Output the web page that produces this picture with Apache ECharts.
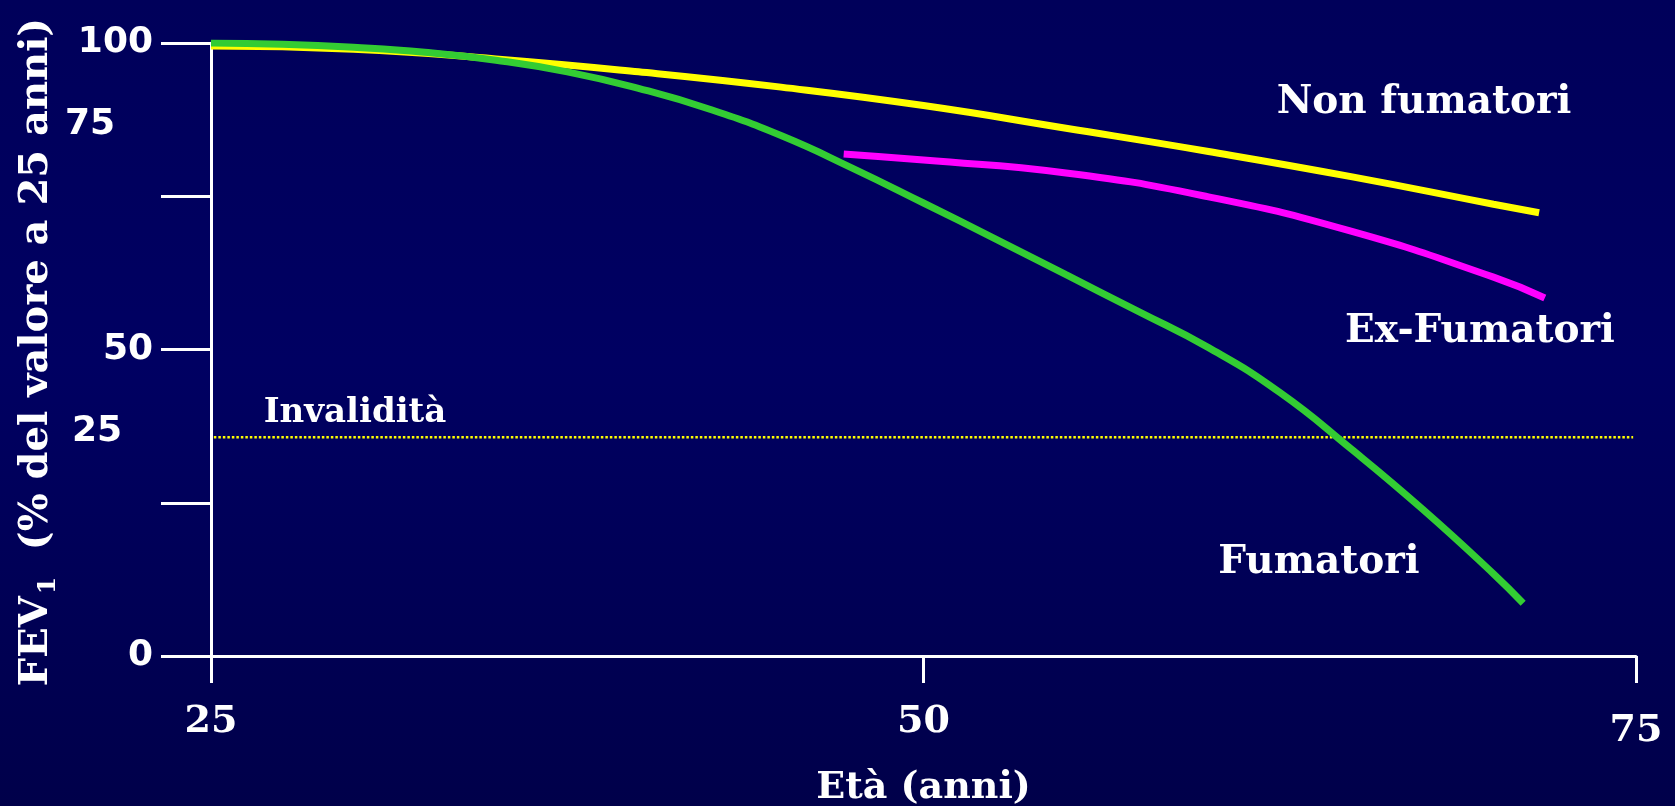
<!DOCTYPE html>
<html>
<head>
<meta charset="utf-8">
<title>FEV1 e fumo</title>
<script src="https://cdn.jsdelivr.net/npm/echarts@6/dist/echarts.min.js"></script>
<style>
  html, body { margin: 0; padding: 0; background: #00005e; }
  #chart { width: 1675px; height: 806px; }
</style>
</head>
<body>
<div id="chart"></div>
<script>
// FEV1 (% of the value at age 25) by age, for three smoking groups
const nonSmokerAges   = [25, 30, 35, 40, 45, 50, 55, 60, 65, 70, 71.6];
const nonSmokerValues = [99.5, 99.0, 97.4, 95.3, 92.8, 89.8, 86.1, 82.3, 78.2, 73.7, 72.3];

const exSmokerAges   = [47.2, 50, 55, 60, 65, 70, 71.8];
const exSmokerValues = [81.9, 80.9, 78.8, 74.9, 69.3, 61.8, 58.4];

const smokerAges   = [25, 27.5, 30, 32.5, 35, 37.5, 40, 42.5, 45, 47.5, 50, 52.5, 55, 57.5, 60, 62.5, 65, 67.5, 70, 71.04];
const smokerValues = [100, 99.8, 99.3, 98.5, 97.2, 95.3, 92.6, 89.2, 84.9, 79.6, 73.9, 68.1, 62.2, 56.3, 50.3, 43.0, 33.8, 24.0, 13.4, 8.6];

// disability threshold (dotted line)
const disabilityLevel = 35.7;
const disabilityRange = [25.1, 74.9];

const xTicks = [25, 50, 75];
const yTickLabels = [0, 50, 100];

const zip = (xs, ys) => xs.map((x, i) => [x, ys[i]]);

const serifBold = "'DejaVu Serif', serif";
const sansBold = "'DejaVu Sans', sans-serif";
const white = '#ffffff';

const chart = echarts.init(document.getElementById('chart'), null, { renderer: 'canvas' });

chart.setOption({
  animation: false,
  backgroundColor: {
    type: 'linear', x: 0, y: 0, x2: 0, y2: 1,
    colorStops: [
      { offset: 0, color: '#00005a' },
      { offset: 0.45, color: '#000062' },
      { offset: 1, color: '#00004a' }
    ]
  },
  grid: { left: 211, right: 39, top: 43, bottom: 150, containLabel: false, outerBoundsMode: 'none' },
  xAxis: {
    type: 'value',
    min: 25, max: 75, interval: 25,
    name: 'Età (anni)',
    nameLocation: 'middle',
    nameGap: 113,
    nameTextStyle: { color: white, fontFamily: serifBold, fontWeight: 'bold', fontSize: 38 },
    axisLine: { show: true, onZero: false, lineStyle: { color: white, width: 3 } },
    axisTick: { show: true, length: 27, lineStyle: { color: white, width: 3 } },
    splitLine: { show: false },
    axisLabel: {
      color: white, fontFamily: serifBold, fontWeight: 'bold', fontSize: 38, margin: 47,
      showMinLabel: true, showMaxLabel: true,
      formatter: v => (xTicks.includes(v) ? (v === 75 ? '{low|' + v + '}' : String(v)) : ''),
      rich: {
        low: { color: white, fontFamily: serifBold, fontWeight: 'bold', fontSize: 38, padding: [9, 0, 0, 0] }
      }
    }
  },
  yAxis: {
    type: 'value',
    min: 0, max: 100, interval: 25,
    axisLine: { show: true, onZero: false, lineStyle: { color: white, width: 3 } },
    axisTick: { show: true, length: 50, lineStyle: { color: white, width: 3 } },
    splitLine: { show: false },
    axisLabel: {
      color: white, fontFamily: sansBold, fontWeight: 'bold', fontSize: 36, margin: 58,
      showMinLabel: true, showMaxLabel: true,
      formatter: v => (yTickLabels.includes(v) ? String(v) : '')
    }
  },
  series: [
    {
      name: 'Invalidità',
      type: 'line',
      data: disabilityRange.map(x => [x, disabilityLevel]),
      showSymbol: false,
      lineStyle: { color: '#ffff00', width: 2.5, type: [2.5, 2] },
      z: 1
    },
    {
      name: 'Non fumatori',
      type: 'line',
      data: zip(nonSmokerAges, nonSmokerValues),
      smooth: true,
      showSymbol: false,
      lineStyle: { color: '#ffff00', width: 7, cap: 'butt' },
      z: 2
    },
    {
      name: 'Ex-Fumatori',
      type: 'line',
      data: zip(exSmokerAges, exSmokerValues),
      smooth: true,
      showSymbol: false,
      lineStyle: { color: '#ff00ff', width: 7, cap: 'butt' },
      z: 3
    },
    {
      name: 'Fumatori',
      type: 'line',
      data: zip(smokerAges, smokerValues),
      smooth: true,
      showSymbol: false,
      lineStyle: { color: '#33cc33', width: 7, cap: 'butt' },
      z: 4
    }
  ],
  graphic: [
    {
      type: 'text', x: 37, y: 352, rotation: Math.PI / 2,
      style: {
        text: '{a|FEV}{s|1}        {a|(% del valore a 25 anni)}',
        align: 'center', verticalAlign: 'middle',
        fill: white,
        rich: {
          a: { fill: white, fontFamily: serifBold, fontWeight: 'bold', fontSize: 40, lineHeight: 48 },
          s: { fill: white, fontFamily: serifBold, fontWeight: 'bold', fontSize: 25, lineHeight: 48, verticalAlign: 'bottom', padding: [0, 0, 0, 2] }
        }
      }
    },
    {
      type: 'text', x: 90, y: 125,
      style: { text: '75', fill: white, font: "bold 36px 'DejaVu Sans', sans-serif", align: 'center', verticalAlign: 'middle' }
    },
    {
      type: 'text', x: 97, y: 432,
      style: { text: '25', fill: white, font: "bold 36px 'DejaVu Sans', sans-serif", align: 'center', verticalAlign: 'middle' }
    },
    {
      type: 'text', x: 1424, y: 103,
      style: { text: 'Non fumatori', fill: white, font: "bold 39px 'DejaVu Serif', serif", align: 'center', verticalAlign: 'middle' }
    },
    {
      type: 'text', x: 1480, y: 332,
      style: { text: 'Ex-Fumatori', fill: white, font: "bold 39px 'DejaVu Serif', serif", align: 'center', verticalAlign: 'middle' }
    },
    {
      type: 'text', x: 1319, y: 563,
      style: { text: 'Fumatori', fill: white, font: "bold 39px 'DejaVu Serif', serif", align: 'center', verticalAlign: 'middle' }
    },
    {
      type: 'text', x: 355, y: 413,
      style: { text: 'Invalidità', fill: white, font: "bold 34px 'DejaVu Serif', serif", align: 'center', verticalAlign: 'middle' }
    }
  ]
});
</script>
</body>
</html>
